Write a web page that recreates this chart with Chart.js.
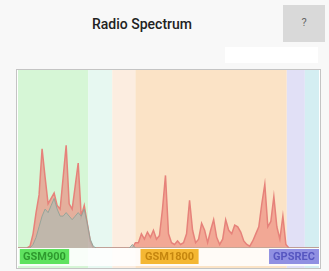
<!DOCTYPE html>
<html>
<head>
<meta charset="utf-8">
<script src="https://cdn.jsdelivr.net/npm/chart.js@4.4.0/dist/chart.umd.min.js"></script>
<style>
  body { margin: 0; background: #f8f8f8; font-family: Roboto, "Noto Sans", sans-serif; }
  #title { position: absolute; left: 92px; top: 16px; font-size: 14px; font-weight: 500; color: #222; }
  #help { position: absolute; left: 283px; top: 5px; width: 42px; height: 37px; background: #d9d9d9;
          color: #666; font-size: 11px; text-align: center; line-height: 35px; }
  #strip { position: absolute; left: 225px; top: 47px; width: 93px; height: 16px; background: #fff; }
  #box { position: absolute; left: 16px; top: 69px; width: 303px; height: 198px;
         border: 1px solid #c4c4c4; background: #fff; }
</style>
</head>
<body>
<div id="title">Radio Spectrum</div>
<div id="help">?</div>
<div id="strip"></div>
<div id="box"><canvas id="spec"></canvas></div>
<script>
  // bins 0..100 across the visible spectrum
  var bins = [];
  for (var i = 0; i <= 100; i++) bins.push(i);

  // current level (red)
  var current = [
    0, 0, 0, 0, 1, 8, 20, 30, 56, 40,
    25, 28, 31, 24, 22, 40, 58, 25, 22, 35,
    48, 18, 24, 14, 4, 0, 0, 0, 0, 0,
    0, 0, 0, 0, 0, 0, 0, 0, 0, 3,
    3, 8, 5, 9, 6, 10, 5, 7, 22, 41,
    8, 3, 2, 4, 2, 3, 8, 27, 10, 3,
    5, 14, 10, 3, 10, 16, 6, 2, 5, 16,
    10, 8, 13, 12, 9, 4, 2, 1, 4, 8,
    12, 25, 36, 12, 15, 29, 12, 5, 18, 2,
    0, 0, 0, 0, 0, 0, 0, 0, 0, 0, 0
  ];

  // average level (grey)
  var average = [
    0, 0, 0, 0, 0, 2, 6, 12, 18, 22,
    20, 24, 28, 22, 18, 18, 20, 18, 16, 18,
    20, 18, 22, 14, 5, 1, 0, 0, 0, 0,
    0, 0, 0, 0, 0, 0, 0, 0, 2, 0,
    0, 0, 0, 0, 0, 0, 0, 0, 0, 0,
    0, 0, 0, 0, 0, 0, 0, 0, 0, 0,
    0, 0, 0, 0, 0, 0, 0, 0, 0, 0,
    0, 0, 0, 0, 0, 0, 0, 0, 0, 0,
    0, 0, 0, 0, 0, 0, 0, 0, 0, 0,
    0, 0, 0, 0, 0, 0, 0, 0, 0, 0, 0
  ];

  // background bands (bin ranges)
  var bandFrom = [0, 23.3, 31.3, 39, 89.3, 95.3];
  var bandTo = [23.3, 31.3, 39, 89.3, 95.3, 100];
  var bandColors = ["#d6f6d6", "#e7f8f1", "#fcede0", "#fbe3c6", "#e1e0f6", "#d4eef2"];

  // band names along the bottom
  var bandNames = ["GSM900", "GSM1800", "GPSREC"];
  var nameFrom = [0.6, 40.7, 83.4];
  var nameTo = [17, 60, 100];
  var nameBg = ["#5fe25f", "#f4b733", "#9090e2"];
  var nameFg = ["#2e9a2e", "#c5860f", "#5656c0"];

  function toPoints(arr) {
    return arr.map(function (v, i) { return { x: bins[i], y: v }; });
  }

  var bandsPlugin = {
    id: "bands",
    beforeDatasetsDraw: function (chart) {
      var c = chart.ctx, xs = chart.scales.x;
      c.save();
      for (var i = 0; i < bandFrom.length; i++) {
        var x1 = xs.getPixelForValue(bandFrom[i]);
        var x2 = xs.getPixelForValue(bandTo[i]);
        c.fillStyle = bandColors[i];
        c.fillRect(x1, 0, x2 - x1, chart.height);
      }
      c.restore();
    },
    afterDatasetsDraw: function (chart) {
      var c = chart.ctx, xs = chart.scales.x, a = chart.chartArea;
      c.save();
      c.fillStyle = "rgba(255,255,255,0.85)";
      c.fillRect(0, a.bottom, chart.width, chart.height - a.bottom - 2);
      c.font = "bold 11px Roboto";
      c.textBaseline = "middle";
      c.textAlign = "center";
      for (var i = 0; i < bandNames.length; i++) {
        var x1 = xs.getPixelForValue(nameFrom[i]);
        var x2 = xs.getPixelForValue(nameTo[i]);
        c.fillStyle = nameBg[i];
        c.fillRect(x1, a.bottom + 1, x2 - x1, 15);
        c.fillStyle = nameFg[i];
        c.fillText(bandNames[i], (x1 + x2) / 2, a.bottom + 9);
      }
      c.restore();
    }
  };

  var ctx = document.getElementById("spec").getContext("2d");
  var specChart = new Chart(ctx, {
    type: "line",
    data: {
      datasets: [
        {
          label: "average",
          data: toPoints(average),
          borderColor: "rgba(140,162,152,0.85)",
          backgroundColor: "rgba(168,188,182,0.6)",
          borderWidth: 1,
          pointRadius: 0,
          tension: 0,
          fill: "origin",
          order: 0
        },
        {
          label: "current",
          data: toPoints(current),
          borderColor: "#e6827a",
          backgroundColor: "rgba(236,128,116,0.6)",
          borderWidth: 1.5,
          pointRadius: 0,
          tension: 0,
          fill: "origin",
          order: 1
        }
      ]
    },
    options: {
      responsive: true,
      maintainAspectRatio: false,
      animation: false,
      layout: { padding: { left: 1, right: 1, top: 1, bottom: 20 } },
      plugins: { legend: { display: false }, tooltip: { enabled: false } },
      scales: {
        x: { type: "linear", display: false, min: 0, max: 100 },
        y: { display: false, min: 0, max: 100 }
      }
    },
    plugins: [bandsPlugin]
  });
</script>
</body>
</html>
